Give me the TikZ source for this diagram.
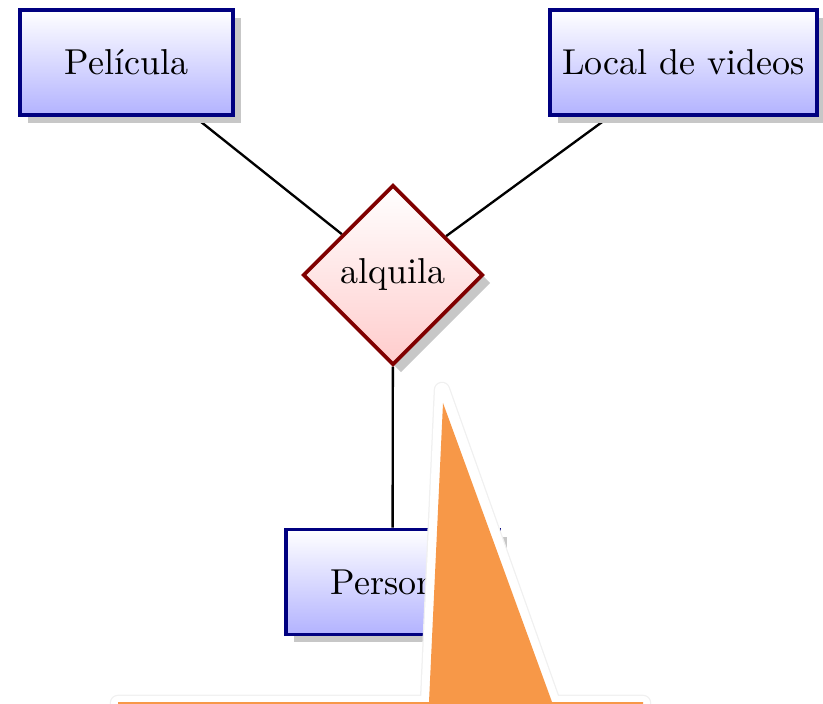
\documentclass[tikz,border=0pt]{standalone}
\usepackage{fontspec}
\usepackage{tikz}
\usetikzlibrary{shapes.geometric,shadows}
\pgfdeclarelayer{bg}
\pgfsetlayers{bg,main}
\definecolor{conefill}{RGB}{247,152,72}

\tikzset{
  entity/.style={rectangle, draw=blue!50!black, line width=1.05pt,
    top color=white, bottom color=blue!30,
    minimum width=59.2pt, minimum height=29.2pt,
    drop shadow={shadow xshift=2.2pt, shadow yshift=-2.2pt, fill=black!22, opacity=1}},
  relation/.style={diamond, draw=red!50!black, line width=1.05pt,
    top color=white, bottom color=red!20,
    minimum width=50pt, minimum height=50pt, inner sep=1pt,
    drop shadow={shadow xshift=2.2pt, shadow yshift=-2.2pt, fill=black!22, opacity=1}},
  link/.style={line width=0.65pt}
}

\begin{document}
\begin{tikzpicture}[x=0.009765cm, y=-0.009765cm]
    \useasboundingbox (0,0) rectangle (823,704);

    \node [entity] (pelicula) at (126.5,62.5) {Película};
    \node [entity] (local) at (683.5,62.5) {Local de videos};
    \node [relation] (alquila) at (393,275) {alquila};
    \node [entity] (persona) at (392.5,582) {Persona};
    \begin{pgfonlayer}{bg}    % lines under the boxes
        \draw [link] (pelicula)--(alquila);
        \draw [link] (local)--(alquila);
        \draw [link] (alquila)--(persona);
    \end{pgfonlayer}

    % orange cone on top
    \draw [black!6, line width=4.6pt, line join=round, line cap=round]
        (118,703) -- (428,703) -- (442,390) -- (553,703) -- (643,703);
    \draw [white, line width=3.9pt, line join=round, line cap=round]
        (118,703) -- (428,703) -- (442,390) -- (553,703) -- (643,703);
    \fill [conefill] (118,702) -- (429,702) -- (443,403) -- (552,702)
        -- (643,702) -- (643,712) -- (118,712) -- cycle;
  \end{tikzpicture}
\end{document}
